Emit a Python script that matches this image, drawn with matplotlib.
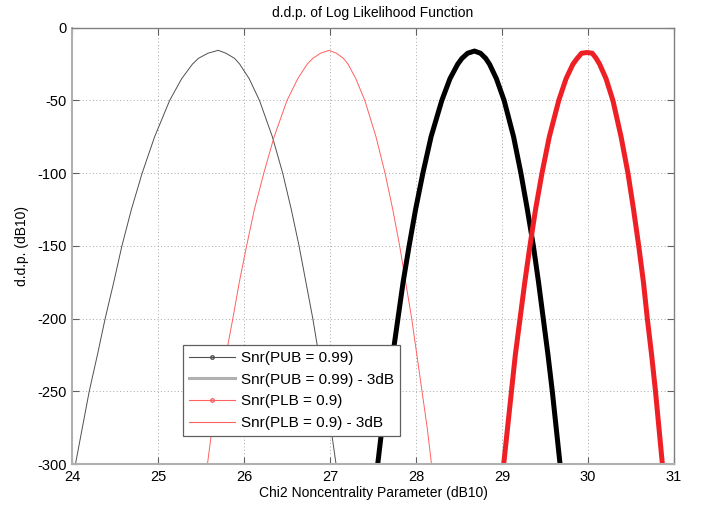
import matplotlib
matplotlib.use("Agg")
import matplotlib.pyplot as plt
from matplotlib.lines import Line2D

plt.rcParams["font.family"] = ["Liberation Sans", "DejaVu Sans"]
plt.rcParams["axes.unicode_minus"] = False

# --- DATA ---
levels = [-300, -275, -250, -225, -200, -175, -150, -125, -100, -75,
          -50, -35, -25, -21, -17.5]

# Snr(PUB = 0.99): left flank, peak, right flank
pub_left = [27.555, 27.605, 27.66, 27.73, 27.79, 27.85, 27.92, 27.995, 28.08, 28.175,
            28.30, 28.395, 28.485, 28.535, 28.60]
pub_peak = (28.68, -16)
pub_right = [29.675, 29.63, 29.585, 29.535, 29.48, 29.425, 29.365, 29.295, 29.22, 29.135,
             29.025, 28.935, 28.855, 28.81, 28.75]

# Snr(PUB = 0.99) - 3dB
pub3_left = [24.04, 24.12, 24.20, 24.295, 24.385, 24.485, 24.58, 24.69, 24.815, 24.96,
             25.135, 25.275, 25.40, 25.47, 25.58]
pub3_peak = (25.70, -15.5)
pub3_right = [27.07, 27.01, 26.94, 26.87, 26.80, 26.72, 26.64, 26.55, 26.45, 26.33,
              26.18, 26.06, 25.95, 25.89, 25.79]

# Snr(PLB = 0.9)
plb_left = [29.02, 29.065, 29.11, 29.155, 29.21, 29.265, 29.325, 29.39, 29.465, 29.55,
            29.66, 29.745, 29.825, 29.875, 29.925]
plb_peak = (29.99, -17)
plb_right = [30.865, 30.825, 30.785, 30.74, 30.69, 30.645, 30.59, 30.53, 30.465, 30.385,
             30.29, 30.21, 30.135, 30.095, 30.05]

# Snr(PLB = 0.9) - 3dB
plb3_left = [25.575, 25.63, 25.70, 25.79, 25.87, 25.945, 26.03, 26.12, 26.23, 26.35,
             26.50, 26.625, 26.735, 26.80, 26.89]
plb3_peak = (26.99, -15.5)
plb3_right = [28.18, 28.13, 28.07, 28.01, 27.95, 27.88, 27.81, 27.73, 27.64, 27.535,
              27.405, 27.30, 27.21, 27.155, 27.075]

labels = ["Snr(PUB = 0.99)", "Snr(PUB = 0.99) - 3dB",
          "Snr(PLB = 0.9)", "Snr(PLB = 0.9) - 3dB"]


def curve(left, peak, right):
    xs = left + [peak[0]] + right[::-1]
    ys = levels + [peak[1]] + levels[::-1]
    return xs, ys


# --- FIGURE ---
fig = plt.figure(figsize=(7.09, 5.09), dpi=100)
ax = fig.add_axes([0.1016, 0.0884, 0.849, 0.857])

x, y = curve(pub3_left, pub3_peak, pub3_right)
ax.plot(x, y, color="#505050", linewidth=0.7)
x, y = curve(plb3_left, plb3_peak, plb3_right)
ax.plot(x, y, color="#ff6060", linewidth=0.7)
x, y = curve(pub_left, pub_peak, pub_right)
ax.plot(x, y, color="black", linewidth=3.6,
        solid_capstyle="butt", solid_joinstyle="round")
x, y = curve(plb_left, plb_peak, plb_right)
ax.plot(x, y, color="#ee1f25", linewidth=3.6,
        solid_capstyle="butt", solid_joinstyle="round")

ax.set_xlim(24, 31)
ax.set_ylim(-300, 0)
ax.set_xticks(range(24, 32))
ax.set_yticks(range(-300, 1, 50))
ax.grid(True, linestyle=(0, (1, 2.5)), color="#a8a8a8", linewidth=0.7)
ax.tick_params(direction="in", length=5, top=True, right=True,
               labelsize=10.5, color="#606060", pad=4)
for side in ["left", "bottom"]:
    ax.spines[side].set_color("#b0b0b0")
    ax.spines[side].set_linewidth(1.5)
for side in ["top", "right"]:
    ax.spines[side].set_color("#808080")
    ax.spines[side].set_linewidth(1.0)

ax.set_title("d.d.p. of Log Likelihood Function", fontsize=10, pad=8)
ax.set_xlabel("Chi2 Noncentrality Parameter (dB10)", fontsize=10, labelpad=2)
ax.set_ylabel("d.d.p. (dB10)", fontsize=10, labelpad=6)

handles = [
    Line2D([], [], color="#505050", linewidth=0.8, marker="o", markersize=2.5,
           markerfacecolor="none", markeredgecolor="#505050"),
    Line2D([], [], color="#b0b0b0", linewidth=2.2),
    Line2D([], [], color="#ff6060", linewidth=0.8, marker="o", markersize=2.5,
           markerfacecolor="none", markeredgecolor="#ff6060"),
    Line2D([], [], color="#ff6060", linewidth=0.8),
]
leg = ax.legend(handles, labels, loc="lower left", bbox_to_anchor=(0.184, 0.064),
                fontsize=11, frameon=True, fancybox=False, framealpha=1,
                edgecolor="#606060", handlelength=3.0, borderpad=0.4,
                labelspacing=0.5, handletextpad=0.4, borderaxespad=0)
leg.get_frame().set_linewidth(0.9)

fig.savefig("out.png", dpi=100)
